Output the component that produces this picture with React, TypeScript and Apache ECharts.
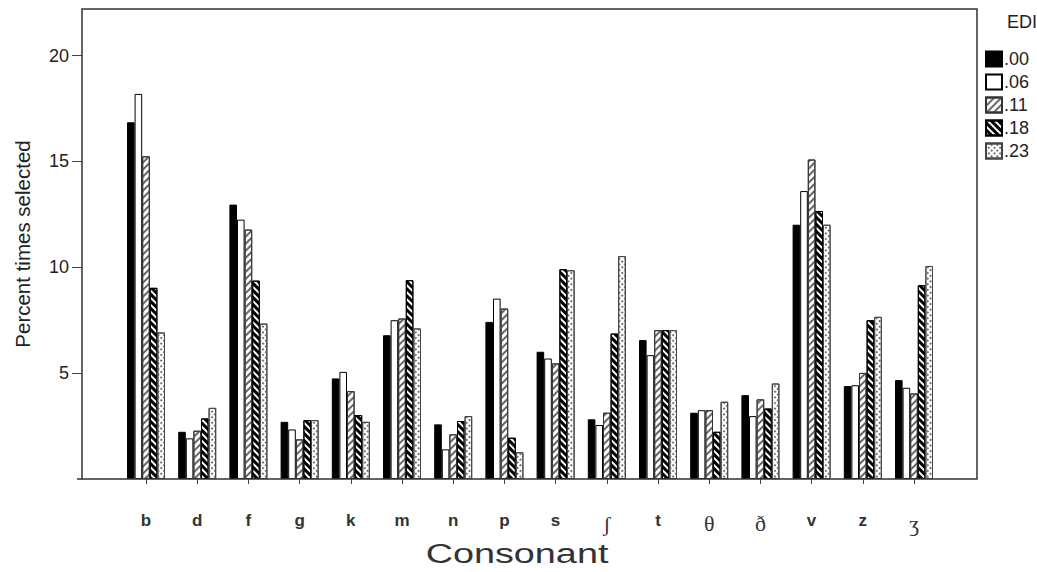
import React, { useEffect, useRef } from 'react';
import * as echarts from 'echarts';

const categories = ['b', 'd', 'f', 'g', 'k', 'm', 'n', 'p', 's', 'ʃ', 't', 'θ', 'ð', 'v', 'z', 'ʒ'];
const seriesNames = ['.00', '.06', '.11', '.18', '.23'];
const edi00 = [16.85, 2.23, 12.96, 2.70, 4.75, 6.79, 2.58, 7.42, 6.01, 2.82, 6.56, 3.13, 3.96, 12.01, 4.39, 4.67];
const edi06 = [18.19, 1.92, 12.25, 2.34, 5.06, 7.50, 1.40, 8.52, 5.69, 2.55, 5.85, 3.25, 2.97, 13.60, 4.43, 4.31];
const edi11 = [15.24, 2.28, 11.78, 1.87, 4.15, 7.58, 2.11, 8.05, 5.46, 3.13, 7.03, 3.25, 3.76, 15.09, 5.01, 4.04];
const edi18 = [9.03, 2.86, 9.37, 2.78, 3.02, 9.39, 2.74, 1.95, 9.91, 6.87, 7.03, 2.23, 3.33, 12.66, 7.50, 9.15];
const edi23 = [6.92, 3.36, 7.34, 2.78, 2.70, 7.11, 2.97, 1.26, 9.86, 10.53, 7.03, 3.65, 4.51, 12.01, 7.66, 10.06];
const yTicks = [5, 10, 15, 20];
const yLabels = [5, 10, 15, 20];

const serifGlyphs = ['ʃ', 'θ', 'ð', 'ʒ'];
const FONT = 'Liberation Sans, Arial, sans-serif';

export default function App() {
  const ref = useRef<HTMLDivElement>(null);
  useEffect(() => {
    document.body.style.margin = '0';
    const chart = echarts.init(ref.current!, null, { renderer: 'svg' });
    const dataSets = [edi00, edi06, edi11, edi18, edi23];
    const styles: any[] = [
      { color: '#000', borderColor: '#000', borderWidth: 1 },
      { color: '#fff', borderColor: '#000', borderWidth: 1 },
      {
        color: '#fff', borderColor: '#333', borderWidth: 1,
        decal: { symbol: 'rect', symbolSize: 1, color: '#666', dashArrayX: [1, 0], dashArrayY: [2, 2.5], rotation: -Math.PI / 4 },
      },
      {
        color: '#fff', borderColor: '#000', borderWidth: 1,
        decal: { symbol: 'rect', symbolSize: 1, color: '#000', dashArrayX: [1, 0], dashArrayY: [3, 1.2], rotation: Math.PI / 4 },
      },
      {
        color: '#fff', borderColor: '#444', borderWidth: 1,
        decal: { symbol: 'rect', symbolSize: 1, color: '#777', dashArrayX: [1.5, 1.5], dashArrayY: [1.5, 1.5], rotation: Math.PI / 4 },
      },
    ];
    const option: any = {
      animation: false,
      backgroundColor: '#fff',
      textStyle: { fontFamily: FONT },
      title: {
        text: 'EDI', left: 1002, top: 8,
        textStyle: { fontSize: 18, fontWeight: 'normal', color: '#222', fontFamily: FONT },
      },
      legend: {
        data: seriesNames, orient: 'vertical', left: 980, top: 45,
        itemWidth: 16, itemHeight: 15, itemGap: 5, icon: 'rect',
        textStyle: { fontSize: 18, color: '#222', fontFamily: FONT, padding: [0, 0, 0, -3] },
      },
      grid: { left: 120.4, right: 97.4, top: 9, bottom: 93, outerBoundsMode: 'none' },
      xAxis: {
        type: 'category', data: categories,
        axisLine: { show: false },
        axisTick: { show: true, alignWithLabel: true, length: 5, lineStyle: { color: '#444' } },
        axisLabel: {
          margin: 33, fontSize: 17, fontWeight: 'bold', color: '#333', fontFamily: FONT,
          formatter: (v: string) => (serifGlyphs.includes(v) ? `{s|${v}}` : v),
          rich: { s: { fontFamily: 'Liberation Serif, serif', fontSize: 22, color: '#333', fontWeight: 'normal', padding: [0, 0, 0, 0] } },
        },
      },
      yAxis: {
        type: 'value', min: 0, max: 22.2, interval: 5, offset: 38.4,
        name: 'Percent times selected', nameLocation: 'middle', nameGap: 49, nameRotate: 90,
        nameTextStyle: { fontSize: 20.5, color: '#222', fontFamily: FONT },
        splitLine: { show: false },
        axisLine: { show: false },
        axisTick: { show: true, length: 10, customValues: yTicks, lineStyle: { color: '#444' } },
        axisLabel: { margin: 13, fontSize: 18, color: '#222', fontFamily: FONT, customValues: yLabels },
      },
      graphic: [
        {
          type: 'rect', shape: { x: 82, y: 9, width: 895, height: 470 },
          style: { fill: 'none', stroke: '#333', lineWidth: 1.5 }, silent: true, z: 100,
        },
        {
          type: 'line', shape: { x1: 77, y1: 479, x2: 82, y2: 479 },
          style: { stroke: '#333', lineWidth: 1.5 }, silent: true, z: 100,
        },
        {
          type: 'text', x: 517, y: 553, scaleX: 1.35,
          style: { text: 'Consonant', font: '28px Liberation Sans, Arial, sans-serif', fill: '#333', align: 'center', verticalAlign: 'middle' },
          silent: true,
        },
      ],
      series: seriesNames.map((n, i) => ({
        name: n, type: 'bar', data: dataSets[i], barWidth: 7.6, barGap: '0%',
        itemStyle: styles[i],
      })),
    };
    chart.setOption(option);
    return () => chart.dispose();
  }, []);
  return <div ref={ref} style={{ position: 'fixed', left: 0, top: 0, width: 1037, height: 572 }} />;
}
